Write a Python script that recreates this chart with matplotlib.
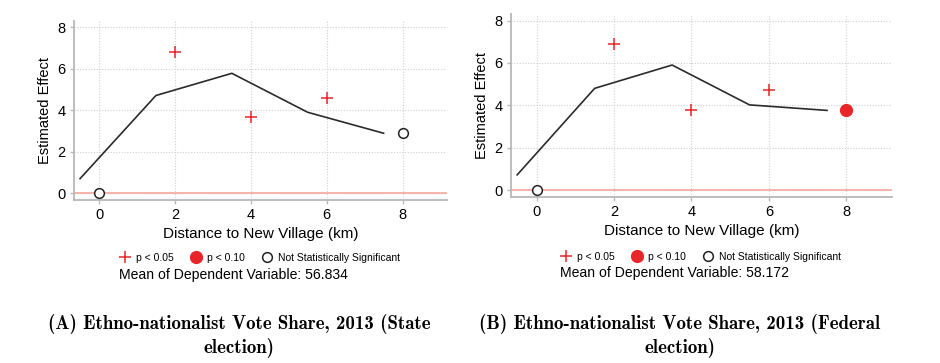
import matplotlib
matplotlib.use("Agg")
import matplotlib.pyplot as plt
from matplotlib.lines import Line2D

# data
line_x = [-0.5, 1.5, 3.5, 5.5, 7.5]
state_line = [0.7, 4.71, 5.78, 3.9, 2.89]
federal_line = [0.72, 4.8, 5.9, 4.02, 3.76]

pt_x = [0, 2, 4, 6, 8]
state_pts = [0.0, 6.81, 3.65, 4.61, 2.91]
state_sig = ["ns", "p05", "p05", "p05", "ns"]
federal_pts = [0.0, 6.89, 3.78, 4.72, 3.76]
federal_sig = ["ns", "p05", "p05", "p05", "p10"]

means = ["56.834", "58.172"]
captions = ["(A) Ethno-nationalist Vote Share, 2013 (State\nelection)",
            "(B) Ethno-nationalist Vote Share, 2013 (Federal\nelection)"]

red = "#e8262a"
plt.rcParams['font.family'] = ['Liberation Sans', 'DejaVu Sans']

fig = plt.figure(figsize=(9.4, 3.63), dpi=100)
axes = [fig.add_axes([0.0787, 0.449, 0.3968, 0.493]),
        fig.add_axes([0.5436, 0.457, 0.405, 0.504])]


def draw_panel(ax, yline, ypts, sig):
    ax.axhline(0, color="#f4a095", lw=1.1, zorder=1)
    ax.plot(line_x, yline, color="#2b2b2b", lw=1.2, zorder=2)
    for x, y, s in zip(pt_x, ypts, sig):
        if s == "p05":
            ax.plot(x, y, marker="+", ms=8, mew=1.1, color=red, ls="none", zorder=3)
        elif s == "p10":
            ax.plot(x, y, marker="o", ms=8.5, color=red, mec=red, ls="none", zorder=3)
        else:
            ax.plot(x, y, marker="o", ms=7, mfc="white", mec="#222222", mew=1.1,
                    ls="none", zorder=3)
    ax.set_xlim(-0.66, 9.17)
    ax.set_ylim(-0.33, 8.3)
    ax.set_xticks([0, 2, 4, 6, 8])
    ax.set_yticks([0, 2, 4, 6, 8])
    ax.grid(True, color="#d0d0d0", ls=(0, (1, 1.5)), lw=0.8)
    ax.set_axisbelow(True)
    for s in ["top", "right"]:
        ax.spines[s].set_visible(False)
    for s in ["left", "bottom"]:
        ax.spines[s].set_color("#b8b8b8")
        ax.spines[s].set_linewidth(1.3)
    ax.tick_params(length=3, width=1, color="#b8b8b8", labelsize=10.5, pad=3)
    ax.set_xlabel("Distance to New Village (km)", fontsize=11, labelpad=3)
    ax.set_ylabel("Estimated Effect", fontsize=10.5, labelpad=4)


draw_panel(axes[0], state_line, state_pts, state_sig)
draw_panel(axes[1], federal_line, federal_pts, federal_sig)

handles = [Line2D([], [], marker="+", ms=8, mew=1.1, color=red, ls="none"),
           Line2D([], [], marker="o", ms=8.5, color=red, ls="none"),
           Line2D([], [], marker="o", ms=7, mfc="white", mec="#222222", mew=1.1, ls="none")]
labels = ["p < 0.05", "p < 0.10", "Not Statistically Significant"]

legend_x = [260, 701]
legend_y = [258, 257]
mean_x = [233, 674]
mean_y = [275, 273]
cap_x = [239, 680]
for i in range(2):
    fig.legend(handles, labels, loc="center", ncol=3, frameon=False, fontsize=7.5,
               handletextpad=0.6, columnspacing=1.6, handlelength=1.0,
               bbox_to_anchor=(legend_x[i] / 940, 1 - legend_y[i] / 363))
    fig.text(mean_x[i] / 940, 1 - mean_y[i] / 363,
             "Mean of Dependent Variable: " + means[i],
             ha="center", va="center", fontsize=10.1)
    fig.text(cap_x[i] / 940, 1 - 336 / 363, captions[i], ha="center", va="center",
             fontsize=13.6, family="cmb10", linespacing=1.2)

fig.savefig("out.png", dpi=100)
